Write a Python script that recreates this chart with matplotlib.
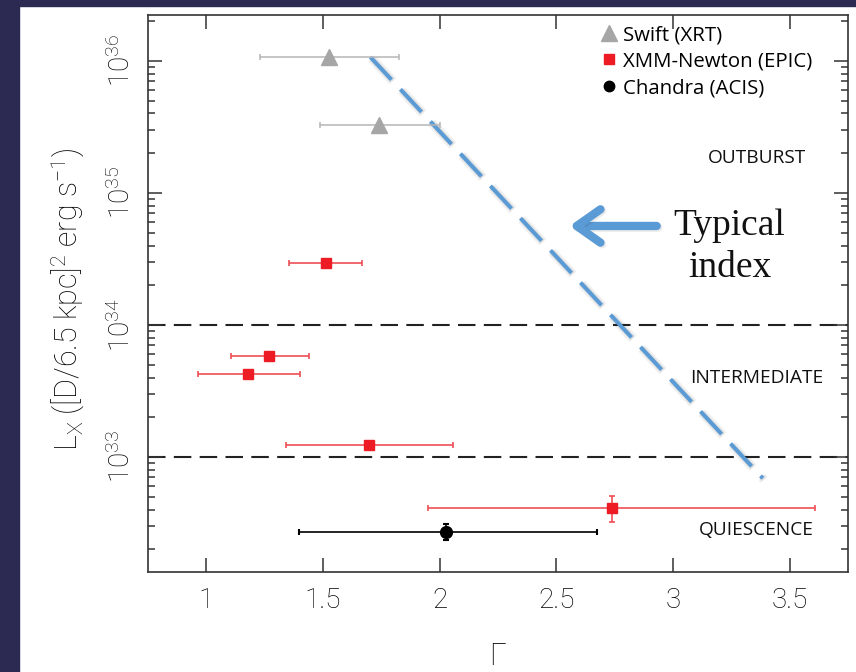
import numpy as np
import matplotlib
matplotlib.use("Agg")
import matplotlib.pyplot as plt
from matplotlib.lines import Line2D
from matplotlib.patches import FancyArrowPatch, ArrowStyle, Rectangle
import matplotlib.patheffects as pe
from matplotlib.ticker import FixedLocator, FixedFormatter, LogLocator, NullFormatter, NullLocator

# ---- data -------------------------------------------------------------
swift_gamma = [1.524, 1.74]
swift_gamma_lo = [1.228, 1.486]
swift_gamma_hi = [1.827, 2.00]
swift_lx = [1.07e36, 3.3e35]

xmm_gamma = [1.511, 1.267, 1.180, 1.696, 2.738]
xmm_gamma_lo = [1.353, 1.104, 0.966, 1.340, 1.949]
xmm_gamma_hi = [1.667, 1.438, 1.401, 2.059, 3.607]
xmm_lx = [2.93e34, 5.85e33, 4.27e33, 1.24e33, 4.11e32]
xmm_lx_lo = [2.93e34, 5.85e33, 4.27e33, 1.15e33, 3.22e32]
xmm_lx_hi = [2.93e34, 5.85e33, 4.27e33, 1.33e33, 5.07e32]

chandra_gamma = [2.026]
chandra_gamma_lo = [1.396]
chandra_gamma_hi = [2.676]
chandra_lx = [2.72e32]
chandra_lx_lo = [2.37e32]
chandra_lx_hi = [3.12e32]

# typical spectral-index track (Gamma, L_X)
track_gamma = [1.703, 3.385]
track_lx = [1.07e36, 6.9e32]

# state boundaries
boundaries = [1e34, 1e33]

xticks = [1, 1.5, 2, 2.5, 3, 3.5]
xtick_labels = ["1", "1.5", "2", "2.5", "3", "3.5"]
yticks = [1e33, 1e34, 1e35, 1e36]
ytick_labels = [r"10$^{33}$", r"10$^{34}$", r"10$^{35}$", r"10$^{36}$"]

states = ["OUTBURST", "INTERMEDIATE", "QUIESCENCE"]
state_lx = [1.84e35, 3.96e33, 2.8e32]

# ---- style ------------------------------------------------------------
AXFONT = "Roboto"
plt.rcParams["mathtext.fontset"] = "custom"
plt.rcParams["mathtext.rm"] = AXFONT + ":light"
plt.rcParams["mathtext.it"] = AXFONT + ":light"
plt.rcParams["mathtext.default"] = "regular"
plt.rcParams["lines.scale_dashes"] = False

BLUE = "#5b9bd5"
RED = "#ed1c24"
GRAY = "#a6a6a6"

fig = plt.figure(figsize=(8.56, 6.72), dpi=100)
fig.patch.set_facecolor("white")

W, H = 856, 672
ax = fig.add_axes([148 / W, 1 - 572 / H, 700 / W, 557 / H])

# navy frame strips
navy = "#2c2a52"
fig.patches.append(Rectangle((0, 0), 19 / W, 1, transform=fig.transFigure,
                             color=navy, zorder=-10))
fig.patches.append(Rectangle((0, 1 - 6 / H), 1, 6 / H, transform=fig.transFigure,
                             color=navy, zorder=-10))

ax.set_yscale("log")
ax.set_xlim(0.75, 3.75)
ax.set_ylim(10 ** 32.129, 10 ** 36.348)

# state boundaries
for b in boundaries:
    ax.axhline(b, color="#222222", lw=1.5, linestyle=(0, (12.6, 6.0)), zorder=1)

# typical index track with a faint soft shadow
ax.plot(track_gamma, track_lx, color=BLUE, lw=2.9, linestyle=(0, (22.3, 9.4)),
        zorder=3,
        path_effects=[pe.SimpleLineShadow(offset=(1.0, -1.0), shadow_color="#000000",
                                          alpha=0.05, linewidth=7),
                      pe.SimpleLineShadow(offset=(0.8, -0.8), shadow_color="#000000",
                                          alpha=0.07, linewidth=4.5),
                      pe.Normal()])

def xerr(vals, lo, hi):
    v = np.asarray(vals)
    return [v - np.asarray(lo), np.asarray(hi) - v]

# Swift
ax.errorbar(swift_gamma, swift_lx, xerr=xerr(swift_gamma, swift_gamma_lo, swift_gamma_hi),
            fmt="^", color=GRAY, ecolor="#b5b5b5", ms=12, mec=GRAY, elinewidth=1.1,
            capsize=2.5, capthick=1.1, zorder=4)
# XMM-Newton
ax.errorbar(xmm_gamma, xmm_lx,
            xerr=xerr(xmm_gamma, xmm_gamma_lo, xmm_gamma_hi),
            yerr=xerr(xmm_lx, xmm_lx_lo, xmm_lx_hi),
            fmt="s", color=RED, ecolor="#ee4f55", ms=7.5, mec=RED, elinewidth=1.2,
            capsize=2.5, capthick=1.2, zorder=4)
# Chandra
ax.errorbar(chandra_gamma, chandra_lx,
            xerr=xerr(chandra_gamma, chandra_gamma_lo, chandra_gamma_hi),
            yerr=xerr(chandra_lx, chandra_lx_lo, chandra_lx_hi),
            fmt="o", color="black", ecolor="black", ms=8.5, elinewidth=1.2,
            capsize=2.5, capthick=1.5, zorder=4)

# ticks
ax.xaxis.set_major_locator(FixedLocator(xticks))
ax.xaxis.set_major_formatter(FixedFormatter(xtick_labels))
ax.xaxis.set_minor_locator(NullLocator())
ax.yaxis.set_major_locator(FixedLocator(yticks))
ax.yaxis.set_major_formatter(FixedFormatter(ytick_labels))
ax.yaxis.set_minor_locator(LogLocator(base=10, subs=np.arange(2, 10)))
ax.yaxis.set_minor_formatter(NullFormatter())

ax.tick_params(which="both", direction="in", top=True, right=True,
               color="#333333", width=1.1)
ax.tick_params(which="major", length=10)
ax.tick_params(which="minor", length=5)
ax.tick_params(axis="x", which="major", pad=11, labelsize=20)
ax.tick_params(axis="y", which="major", pad=9, labelsize=20, labelrotation=90)
for lab in ax.get_xticklabels() + ax.get_yticklabels():
    lab.set_fontfamily(AXFONT)
    lab.set_fontweight("light")
for lab in ax.get_yticklabels():
    lab.set_verticalalignment("center")

for s in ax.spines.values():
    s.set_color("#333333")
    s.set_linewidth(1.2)

ax.set_ylabel(r"L$_{\rm X}$ ([D/6.5 kpc]$^2$ erg s$^{-1}$)", fontsize=22,
              fontfamily=AXFONT, fontweight="light")
ax.yaxis.set_label_coords(-0.087, 0.49)
ax.set_xlabel("Γ", fontsize=22, fontfamily=AXFONT, fontweight="light")
ax.xaxis.set_label_coords(0.5, -0.126)

# state labels
for name, ly in zip(states, state_lx):
    ax.text(3.359, ly, name, ha="center", va="center", fontsize=13.8,
            fontfamily="Open Sans", color="#111111")

# legend
handles = [
    Line2D([], [], marker="^", ls="none", color=GRAY, ms=12),
    Line2D([], [], marker="s", ls="none", color=RED, ms=7.5),
    Line2D([], [], marker="o", ls="none", color="black", ms=7.5),
]
labels = ["Swift (XRT)", "XMM-Newton (EPIC)", "Chandra (ACIS)"]
leg = ax.legend(handles, labels, loc="upper left", bbox_to_anchor=(0.647, 0.982),
                frameon=False, handlelength=0.8, handletextpad=0.3,
                labelspacing=0.32, borderpad=0.0, borderaxespad=0.0,
                prop={"family": "Open Sans", "size": 14.7})

# annotation
ax.text(3.242, 10 ** 34.75, "Typical", ha="center", va="center", fontsize=27,
        fontfamily="Liberation Serif", color="#111111")
ax.text(3.242, 10 ** 34.43, "index", ha="center", va="center", fontsize=27,
        fontfamily="Liberation Serif", color="#111111")
arrow = FancyArrowPatch((2.930, 10 ** 34.75), (2.557, 10 ** 34.75),
                        arrowstyle=ArrowStyle("->", head_length=17, head_width=12),
                        mutation_scale=1, lw=6, color=BLUE, shrinkA=0, shrinkB=0,
                        capstyle="round", joinstyle="round", zorder=5,
                        path_effects=[pe.SimpleLineShadow(offset=(1.2, -1.2),
                                                          shadow_color="#000000",
                                                          alpha=0.08),
                                      pe.Normal()])
ax.add_patch(arrow)

fig.savefig("out.png", dpi=100, facecolor=fig.get_facecolor())
